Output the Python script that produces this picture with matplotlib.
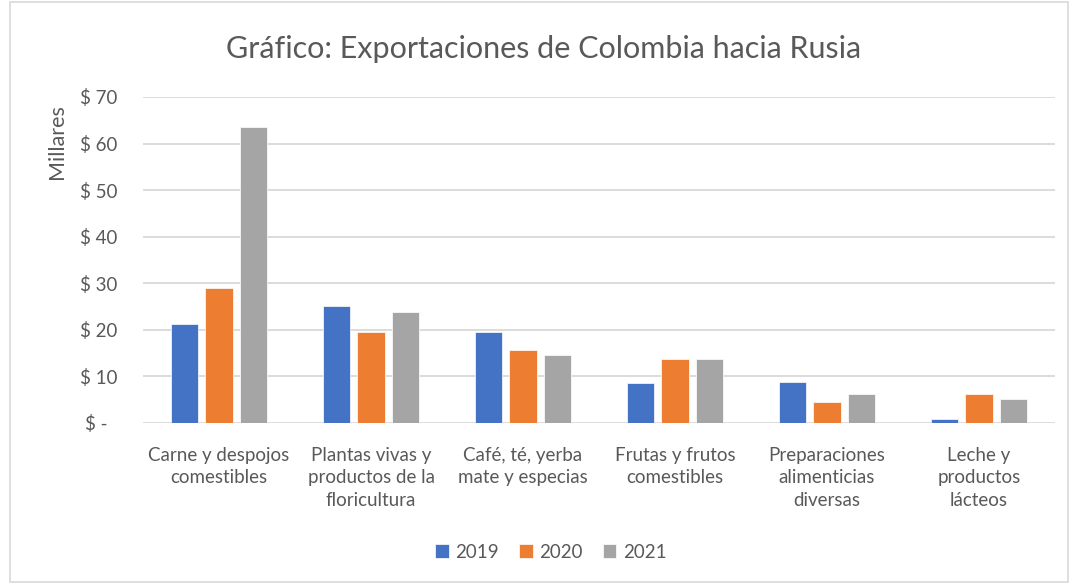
import matplotlib
matplotlib.use("Agg")
import matplotlib.pyplot as plt
import matplotlib.transforms as mtrans
import numpy as np
from matplotlib.patches import Rectangle

categories = ["Carne y despojos\ncomestibles", "Plantas vivas y\nproductos de la\nfloricultura",
              "Café, té, yerba\nmate y especias", "Frutas y frutos\ncomestibles",
              "Preparaciones\nalimenticias\ndiversas", "Leche y\nproductos\nlácteos"]
years = ["2019", "2020", "2021"]
v2019 = [21.2, 25.2, 19.5, 8.5, 8.9, 0.8]
v2020 = [29.0, 19.5, 15.7, 13.8, 4.6, 6.2]
v2021 = [63.6, 23.9, 14.5, 13.8, 6.2, 5.1]
yticks = [0, 10, 20, 30, 40, 50, 60, 70]
ytick_labels = ["$ -", "$ 10", "$ 20", "$ 30", "$ 40", "$ 50", "$ 60", "$ 70"]
colors = ["#4472C4", "#ED7D31", "#A5A5A5"]

plt.rcParams['font.family'] = ['Lato', 'DejaVu Sans']
W, H = 1071, 584
fig = plt.figure(figsize=(W/100, H/100), dpi=100)
fig.patches.append(Rectangle((10/W, 2/H), 1058/W, 580/H, transform=fig.transFigure,
                             fill=False, edgecolor="#D9D9D9", lw=1.2))
ax = fig.add_axes([143/W, 1 - 423/H, (1055-143)/W, (423-97)/H])

x = np.arange(len(categories))
bw = 0.178
step = 0.224
for i, (vals, yr) in enumerate(zip([v2019, v2020, v2021], years)):
    ax.bar(x + (i-1)*step, vals, width=bw, color=colors[i], label=yr, zorder=3,
           edgecolor="white", linewidth=0.5)

ax.set_xlim(-0.5, len(categories)-0.5)
ax.set_ylim(0, 70)
ax.set_yticks(yticks)
ax.set_yticklabels(ytick_labels)
ax.set_xticks(x)
ax.set_xticklabels(categories, linespacing=1.42)
ax.grid(axis='y', color="#D9D9D9", lw=1.3, zorder=0)
for s in ax.spines.values():
    s.set_visible(False)
ax.tick_params(axis='both', length=0, colors="#595959", labelsize=13.5)
ax.tick_params(axis='x', pad=17)
ax.yaxis.set_tick_params(pad=0)
for j, lbl in enumerate(ax.get_yticklabels()):
    lbl.set_horizontalalignment('left')
    off = -63/100 if j > 0 else -58/100
    lbl.set_transform(lbl.get_transform() + mtrans.ScaledTranslation(off, 0, fig.dpi_scale_trans))

fig.text(57/W, 1 - 142/H, "Millares", rotation=90, ha='center', va='center',
         fontsize=15.5, color="#595959")
fig.text(544/W, 1 - 49/H, "Gráfico: Exportaciones de Colombia hacia Rusia", ha='center', va='center',
         fontsize=22, color="#595959")

leg = fig.legend(loc='center', bbox_to_anchor=(551/W, 1 - 552/H), ncol=3, frameon=False,
                 fontsize=13.5, handlelength=0.7, handleheight=0.7, handletextpad=0.35,
                 columnspacing=1.1)
for t in leg.get_texts():
    t.set_color("#595959")

fig.savefig("out.png", dpi=100)
